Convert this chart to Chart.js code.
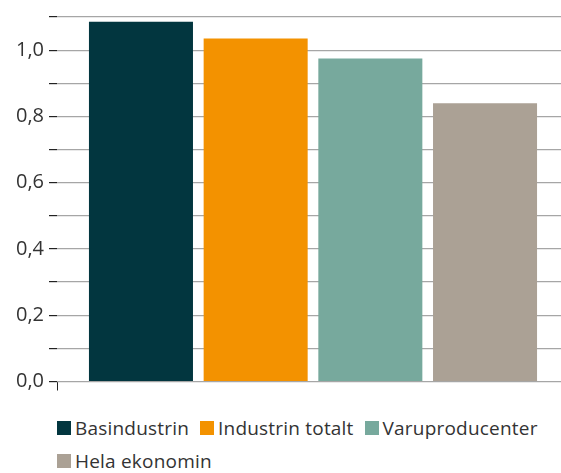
<!DOCTYPE html>
<html>
<head>
<meta charset="utf-8">
<script src="https://cdn.jsdelivr.net/npm/chart.js@4.4.1/dist/chart.umd.min.js"></script>
<style>
  html, body { margin: 0; padding: 0; background: #fff; overflow: hidden; width: 561px; height: 473px; }
  #wrap { position: absolute; left: 0; top: 0; width: 569px; height: 400px; }
  #legend { position: absolute; left: 57px; top: 411px; width: 504px; display: flex; flex-wrap: wrap;
            font-family: 'Open Sans', sans-serif; font-size: 19px; letter-spacing: 0.2px; color: #333; }
  .item { display: flex; align-items: center; height: 33px; margin-right: 11px; white-space: nowrap; }
  .box { width: 14px; height: 14px; margin-right: 4px; flex: none; }
</style>
</head>
<body>
<div id="wrap"><canvas id="c"></canvas></div>
<div id="legend"></div>
<script>
// ---- data ----
const categories = [''];
const seriesNames = ['Basindustrin', 'Industrin totalt', 'Varuproducenter', 'Hela ekonomin'];
const seriesValues = [1.086, 1.035, 0.975, 0.840];
const seriesColors = ['#02363f', '#f39200', '#77a99d', '#aba195'];
const yMin = 0, yMax = 1.1, yStep = 0.1;

const FONT = "'Open Sans', sans-serif";

const datasets = seriesNames.map((name, i) => ({
  label: name,
  data: [seriesValues[i]],
  backgroundColor: seriesColors[i],
  borderWidth: 0,
  categoryPercentage: 0.896,
  barPercentage: 0.907
}));

const chart = new Chart(document.getElementById('c'), {
  type: 'bar',
  data: { labels: categories, datasets },
  options: {
    responsive: true,
    maintainAspectRatio: false,
    animation: false,
    layout: { padding: { top: 14, right: 0, left: 0, bottom: 0 } },
    plugins: { legend: { display: false }, tooltip: { enabled: false } },
    scales: {
      x: {
        grid: { display: true, drawOnChartArea: false, drawTicks: true, tickLength: 9,
                tickColor: '#222', offset: true, lineWidth: 1 },
        border: { display: true, color: '#a6a6a6', width: 1 },
        ticks: { callback: () => '' },
        afterFit: (s) => { s.height = 18.5; }
      },
      y: {
        min: yMin, max: yMax,
        grid: { color: '#a6a6a6', lineWidth: 1.2, tickColor: '#222', tickLength: 8, drawTicks: true },
        border: { display: false },
        ticks: {
          stepSize: yStep,
          padding: 5,
          color: '#333',
          font: { family: FONT, size: 20 },
          callback: (v) => {
            const k = Math.round(v * 10);
            return k % 2 === 0 ? (k / 10).toFixed(1).replace('.', ',') : '';
          }
        },
        afterFit: (s) => { s.width = 57; }
      }
    }
  }
});

// HTML legend built from chart datasets
const legendEl = document.getElementById('legend');
chart.data.datasets.forEach(ds => {
  const item = document.createElement('div');
  item.className = 'item';
  const box = document.createElement('span');
  box.className = 'box';
  box.style.background = ds.backgroundColor;
  const txt = document.createElement('span');
  txt.textContent = ds.label;
  item.appendChild(box);
  item.appendChild(txt);
  legendEl.appendChild(item);
});
</script>
</body>
</html>
